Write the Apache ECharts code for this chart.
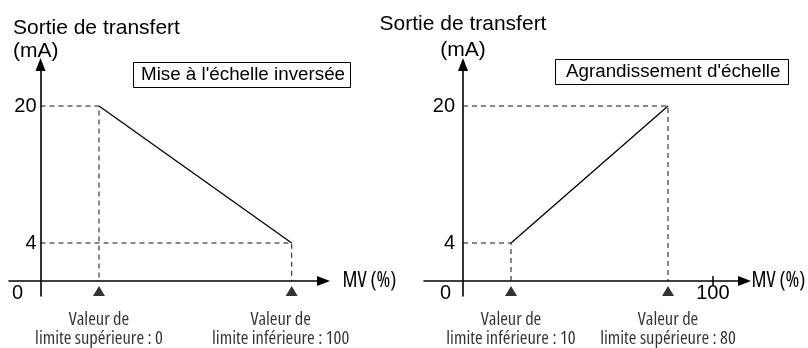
<!DOCTYPE html>
<html><head><meta charset="utf-8">
<script src="https://cdn.jsdelivr.net/npm/echarts@6/dist/echarts.min.js"></script>
<style>html,body{margin:0;padding:0;background:#fff}#c{width:808px;height:348px}</style>
</head><body><div id="c"></div>
<script>
// ---- data ----
const yTickLabels = [0, 4, 20];
const leftX = [0, 100];
const leftY = [20, 4];
const leftLimitLabels = ['Valeur de\nlimite supérieure : 0', 'Valeur de\nlimite inférieure : 100'];
const rightX = [10, 80];
const rightY = [4, 20];
const rightLimitLabels = ['Valeur de\nlimite inférieure : 10', 'Valeur de\nlimite supérieure : 80'];
const rightXTicks = [100];
const yAxisTitle = 'Sortie de transfert\n(mA)';
const xAxisTitle = 'MV (%)';
const leftBoxTitle = "Mise à l'échelle inversée";
const rightBoxTitle = "Agrandissement d'échelle";

// ---- layout ----
const FONT = "'Liberation Sans', Arial, Helvetica, sans-serif";
const NARROW = "'Open Sans', sans-serif";
const NARROW_STYLE = {fontStyle: 'normal', fontWeight: 'normal condensed', fontFamily: NARROW};
const Y = {min: -2.19, max: 24.85, cross: -0.438, top: 64.5, height: 231.5, xOffset: -15};
const P = [
  {left: 9, width: 314.5, xMin: -46.7, xMax: 116.5, yOffset: -31.5, xCross: -30.36, labelMargin: 4, zeroPad: 13.5, nameAlign: 'left', namePad: [0,0,0,-27.5], nameLH: 23, xNameGap: 19, labelShift: [-11, 0]},
  {left: 424, width: 320.5, xMin: -28.8, xMax: 114.1, yOffset: -39, xCross: -11.4, labelMargin: 8, zeroPad: 4, nameAlign: 'center', namePad: [0,0,0,0], nameLH: 26, xNameGap: 7, labelShift: [0, 0]}
];
const charts = [
  {xs: leftX, ys: leftY, labels: leftLimitLabels},
  {xs: rightX, ys: rightY, labels: rightLimitLabels}
];

const axisLineStyle = {show: true, onZero: false, symbol: ['none', 'triangle'], symbolSize: [10, 13], lineStyle: {color: '#000', width: 1.6}};

const grid = [], xAxis = [], yAxis = [], series = [];
P.forEach((p, i) => {
  grid.push({left: p.left, width: p.width, top: Y.top, height: Y.height, containLabel: false, outerBoundsMode: 'none'});
  xAxis.push({
    type: 'value', gridIndex: i, position: 'bottom', min: p.xMin, max: p.xMax, offset: Y.xOffset,
    axisLine: axisLineStyle, splitLine: {show: false},
    axisTick: i === 1 ? {show: true, customValues: rightXTicks, length: 5, lineStyle: {color: '#000', width: 1.5}} : {show: false},
    axisLabel: i === 1 ? {show: true, customValues: rightXTicks, margin: 2, color: '#000', fontSize: 20, fontFamily: FONT} : {show: false},
    name: xAxisTitle, nameLocation: 'end', nameGap: p.xNameGap,
    nameTextStyle: Object.assign({color: '#000', fontSize: 21, verticalAlign: 'middle', padding: [4, 0, 0, 0]}, NARROW_STYLE)
  });
  yAxis.push({
    type: 'value', gridIndex: i, position: 'left', min: Y.min, max: Y.max, offset: p.yOffset,
    axisLine: axisLineStyle, splitLine: {show: false}, axisTick: {show: false},
    axisLabel: {
      show: true, customValues: yTickLabels, margin: p.labelMargin, color: '#000', fontSize: 20, fontFamily: FONT,
      formatter: v => v === 0 ? '{o|' + v + '}' : String(v),
      rich: {o: {padding: [32, p.zeroPad, 0, 0], fontSize: 20, fontFamily: FONT, color: '#000'}}
    },
    name: yAxisTitle, nameLocation: 'end', nameGap: 1.5,
    nameTextStyle: {color: '#000', fontSize: 21, fontFamily: FONT, lineHeight: p.nameLH, align: p.nameAlign, verticalAlign: 'bottom', padding: p.namePad}
  });
});
// extra x axis (same scale, same position) for the inner half of the "100" tick
xAxis.push({
  type: 'value', gridIndex: 1, position: 'bottom', min: P[1].xMin, max: P[1].xMax, offset: Y.xOffset,
  axisLine: {show: false, onZero: false}, splitLine: {show: false}, axisLabel: {show: false},
  axisTick: {show: true, inside: true, customValues: rightXTicks, length: 5, lineStyle: {color: '#000', width: 1.5}}
});

charts.forEach((c, i) => {
  const p = P[i];
  c.xs.forEach((x, k) => {
    series.push({
      type: 'line', xAxisIndex: i, yAxisIndex: i, symbol: 'none', silent: true, animation: false,
      lineStyle: {color: '#111', width: 1, type: [5, 4]},
      data: [[p.xCross, c.ys[k]], [x, c.ys[k]], [x, Y.cross]]
    });
  });
  series.push({
    type: 'line', xAxisIndex: i, yAxisIndex: i, symbol: 'none', animation: false,
    lineStyle: {color: '#000', width: 1.3},
    data: c.xs.map((x, k) => [x, c.ys[k]])
  });
  series.push({
    type: 'scatter', xAxisIndex: i, yAxisIndex: i, animation: false, clip: false,
    symbol: 'triangle', symbolSize: [12, 10], symbolOffset: [0, 10],
    itemStyle: {color: '#000'},
    label: Object.assign({show: true, position: 'bottom', distance: 14, color: '#000', fontSize: 18.5, lineHeight: 19, align: 'center',
      formatter: prm => c.labels[prm.dataIndex]}, NARROW_STYLE),
    data: c.xs.map((x, k) => ({value: [x, Y.cross], label: {offset: k === 1 ? p.labelShift : [0, 0]}}))
  });
});

const boxText = {fontFamily: FONT, fontSize: 18.8, fontWeight: 'normal', color: '#000', lineHeight: 20};
const option = {
  backgroundColor: '#fff',
  animation: false,
  title: [
    {text: leftBoxTitle, left: 133, top: 62, padding: [3, 6, 3, 8], borderColor: '#000', borderWidth: 1, textStyle: boxText},
    {text: rightBoxTitle, left: 555, top: 59, padding: [3, 8, 3, 11], borderColor: '#000', borderWidth: 1, textStyle: boxText}
  ],
  grid, xAxis, yAxis, series
};
const chart = echarts.init(document.getElementById('c'), null, {renderer: 'canvas'});
chart.setOption(option);
</script></body></html>
